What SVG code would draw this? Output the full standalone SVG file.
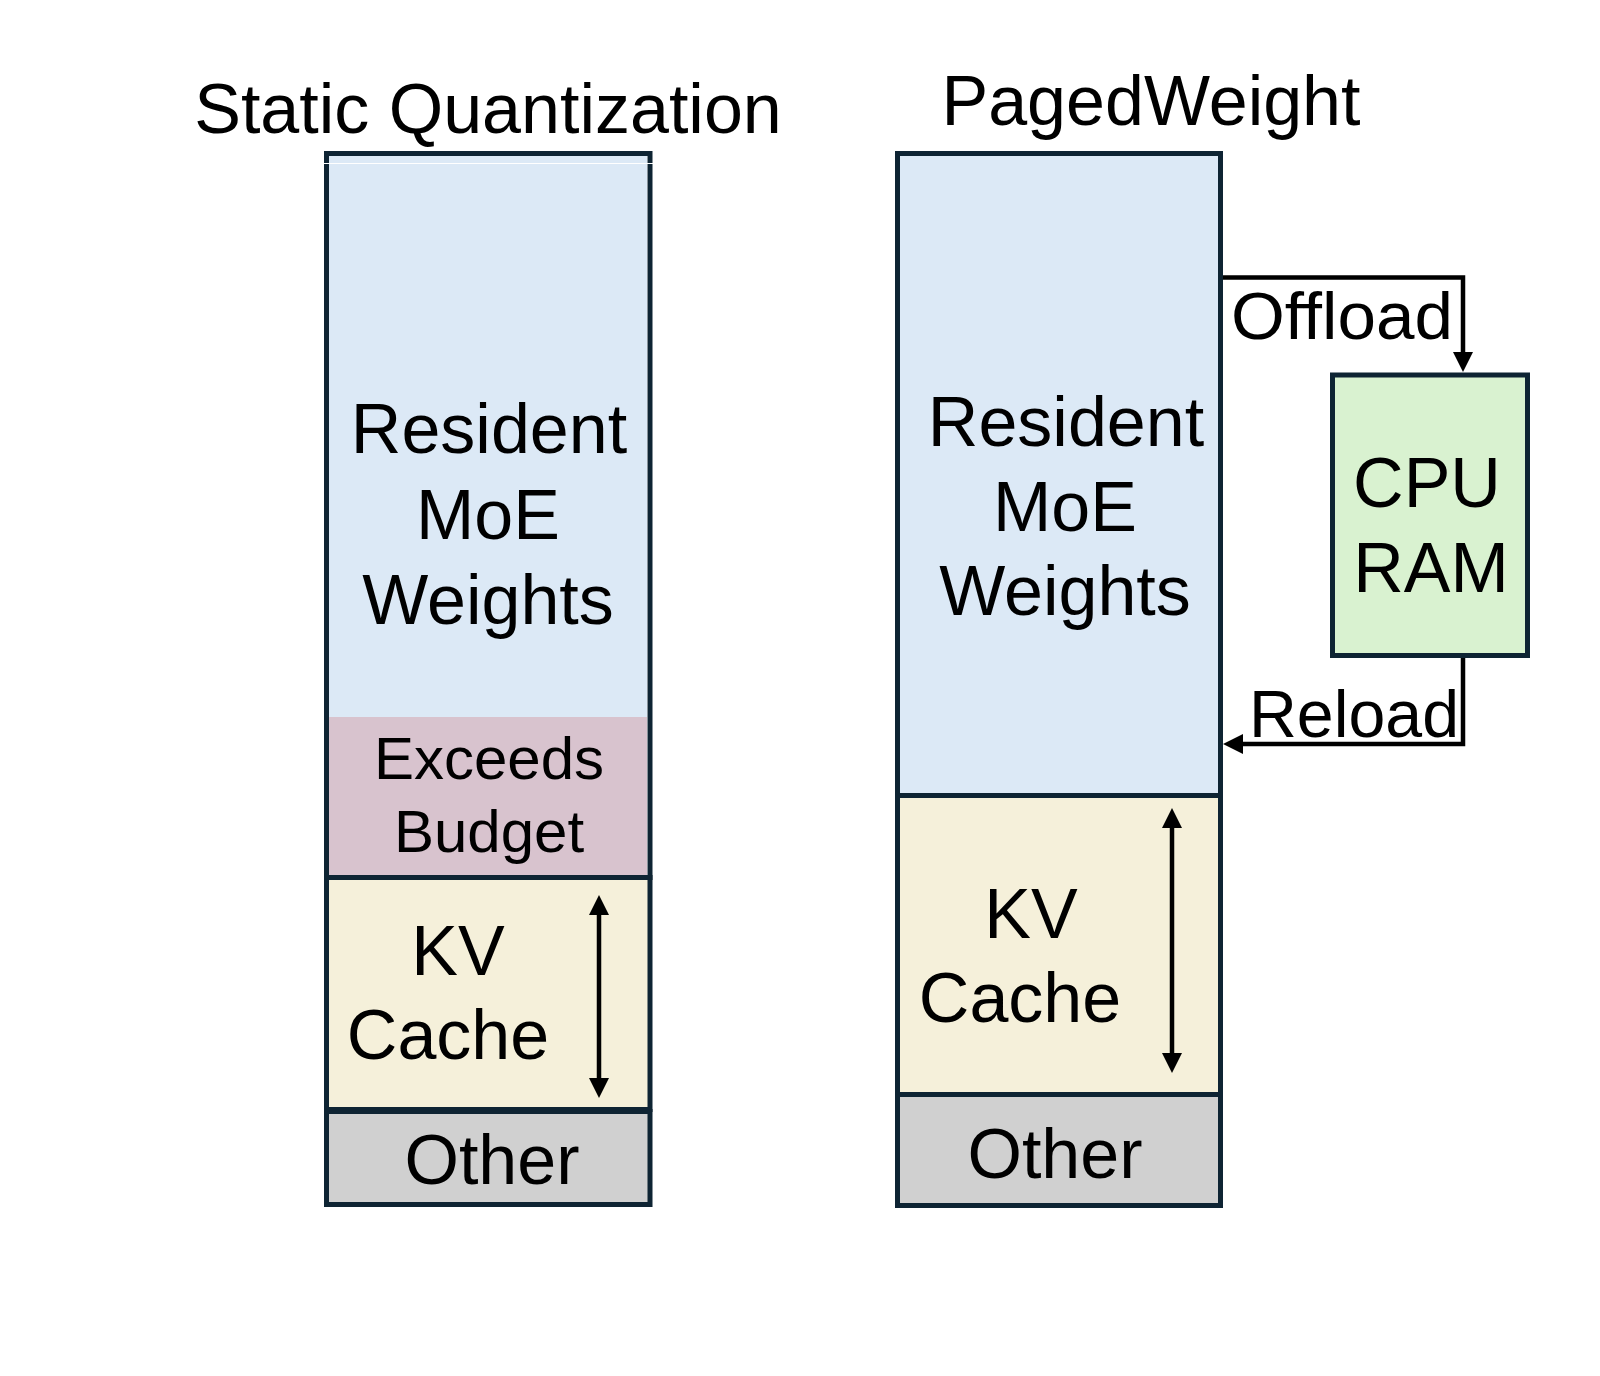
<svg xmlns="http://www.w3.org/2000/svg" width="1600" height="1376" viewBox="0 0 1600 1376">
<style>
  text { font-family: "Liberation Sans", Arial, sans-serif; fill: #000; }
  .big { font-size: 70px; }
  .mid { font-size: 60px; }
  .lbl { font-size: 66px; }
  .box { stroke: #0E2433; stroke-width: 5; }
  .blue { fill: #DCE9F6; }
  .pink { fill: #D8C3CE; }
  .yellow { fill: #F5F0DA; }
  .grey { fill: #D0D0D0; }
  .green { fill: #D9F2D0; }
  .conn { fill: none; stroke: #000; stroke-width: 4.5; }
</style>
<defs>
  <marker id="ah" viewBox="0 0 20 20" refX="10" refY="10" markerWidth="20" markerHeight="20" markerUnits="userSpaceOnUse" orient="auto-start-reverse">
    <path d="M0,0 L20,10 L0,20 z" fill="#000"/>
  </marker>
</defs>

<text class="big" x="488" y="133" text-anchor="middle">Static Quantization</text>
<text class="big" x="1151" y="125" text-anchor="middle">PagedWeight</text>

<g id="sq-weights">
  <rect class="blue" x="329" y="156" width="318" height="561"/>
  <rect class="pink" x="329" y="717" width="318" height="158"/>
  <rect class="box" x="326.5" y="153.5" width="323.5" height="724" fill="none"/>
  <line x1="323" y1="163.5" x2="653" y2="163.5" stroke="#fff" stroke-width="1.2"/>
  <text class="big" x="489" y="453" text-anchor="middle">Resident</text>
  <text class="big" x="488" y="539" text-anchor="middle">MoE</text>
  <text class="big" x="488" y="624" text-anchor="middle">Weights</text>
  <text class="mid" x="489" y="779" text-anchor="middle">Exceeds</text>
  <text class="mid" x="489" y="852" text-anchor="middle">Budget</text>
</g>
<g id="sq-kv">
  <rect class="box yellow" x="326.5" y="877.5" width="323.5" height="232"/>
  <text class="big" x="458" y="975" text-anchor="middle">KV</text>
  <text class="big" x="448" y="1059" text-anchor="middle">Cache</text>
</g>
<g id="sq-other">
  <rect class="box grey" x="326.5" y="1111.5" width="323.5" height="93"/>
  <text class="big" x="492" y="1184" text-anchor="middle">Other</text>
</g>

<g id="pw-weights">
  <rect class="box blue" x="897.5" y="153.5" width="323" height="642"/>
  <text class="big" x="1066" y="446" text-anchor="middle">Resident</text>
  <text class="big" x="1065" y="531" text-anchor="middle">MoE</text>
  <text class="big" x="1065" y="615" text-anchor="middle">Weights</text>
</g>
<g id="pw-kv">
  <rect class="box yellow" x="897.5" y="795.5" width="323" height="299"/>
  <text class="big" x="1031" y="938" text-anchor="middle">KV</text>
  <text class="big" x="1020" y="1022" text-anchor="middle">Cache</text>
</g>
<g id="pw-other">
  <rect class="box grey" x="897.5" y="1094.5" width="323" height="111"/>
  <text class="big" x="1055" y="1178" text-anchor="middle">Other</text>
</g>

<g id="cpu-ram">
  <rect class="box green" x="1332.5" y="375" width="195" height="280.5"/>
  <text class="big" x="1427" y="507" text-anchor="middle">CPU</text>
  <text class="big" x="1431" y="592" text-anchor="middle">RAM</text>
</g>

<g id="connectors">
  <line class="conn" x1="599" y1="905" x2="599" y2="1088" marker-start="url(#ah)" marker-end="url(#ah)"/>
  <line class="conn" x1="1172" y1="818" x2="1172" y2="1063" marker-start="url(#ah)" marker-end="url(#ah)"/>
  <path class="conn" d="M1223,277.5 H1463 V362" marker-end="url(#ah)"/>
  <text class="lbl" x="1231" y="339" textLength="222" lengthAdjust="spacingAndGlyphs">Offload</text>
  <path class="conn" d="M1463,658 V744 H1233" marker-end="url(#ah)"/>
  <text class="lbl" x="1249" y="737" textLength="210" lengthAdjust="spacingAndGlyphs">Reload</text>
</g>
</svg>
